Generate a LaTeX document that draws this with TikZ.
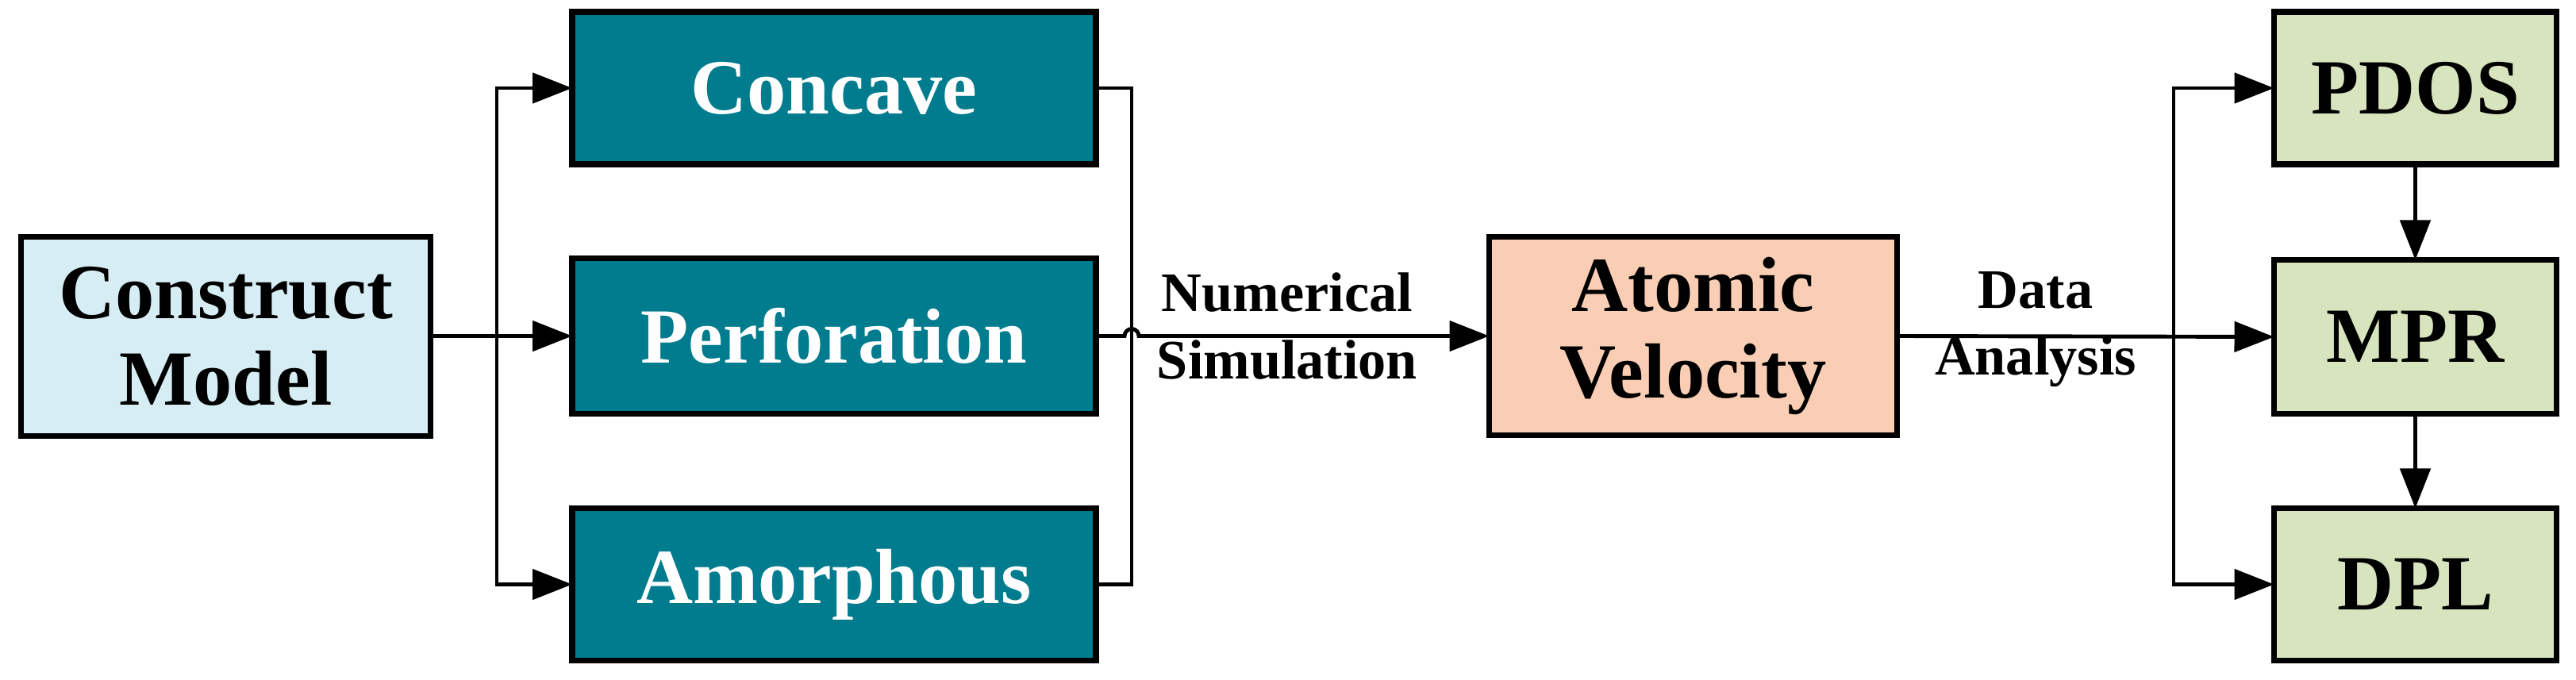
\documentclass[tikz,border=0pt]{standalone}
\usepackage{fontspec}
\setmainfont{Liberation Serif}
\usetikzlibrary{arrows.meta}
\definecolor{teal1}{RGB}{0,124,142}
\definecolor{lblue}{RGB}{214,237,244}
\definecolor{peach}{RGB}{250,206,180}
\definecolor{lgreen}{RGB}{215,228,189}
\begin{document}
\begin{tikzpicture}[
  box/.style={draw=black,line width=2pt,outer sep=0pt,inner sep=0pt,align=center,font=\fontsize{28}{31}\selectfont\bfseries},
  tbox/.style={box,fill=teal1,text=white,minimum width=6.6cm,minimum height=1.92cm},
  gbox/.style={box,fill=lgreen,minimum width=3.56cm,minimum height=1.92cm},
  con/.style={line width=1.4pt},
  arr/.style={con,-{Triangle[length=0.5cm,width=0.38cm]}},
  lab/.style={font=\fontsize{20}{24}\selectfont\bfseries,align=center}]
\useasboundingbox (0,0) rectangle (32.46,8.57);
\node[box,fill=lblue,minimum width=5.16cm,minimum height=2.51cm] (cm) at (2.845,4.33) {Construct\\Model};
\node[tbox] (conc) at (10.51,7.46) {Concave};
\node[tbox,minimum height=1.96cm] (perf) at (10.51,4.335) {Perforation};
\node[tbox] (amor) at (10.51,1.205) {Amorphous};
\node[box,fill=peach,minimum width=5.14cm,minimum height=2.5cm] (atom) at (21.335,4.335) {Atomic\\Velocity};
\node[gbox] (pdos) at (30.435,7.46) {PDOS};
\node[gbox,minimum height=1.94cm] (mpr) at (30.435,4.325) {MPR};
\node[gbox] (dpl) at (30.435,1.205) {DPL};
\coordinate (s1) at (6.26,4.335);
\coordinate (m1) at (14.26,4.335);
\coordinate (s2) at (27.39,4.335);
\draw[arr] (cm.east |- perf.west) -- (perf.west);
\draw[arr] (s1) |- (conc.west);
\draw[arr] (s1) |- (amor.west);
\draw[con] (conc.east) -| (m1 |- amor.east) -- (amor.east);
\draw[arr] (perf.east) -- ([xshift=-0.09cm]m1) arc[start angle=180,end angle=0,radius=0.09cm] -- (atom.west);
\draw[arr] (atom.east) -- (mpr.west);
\draw[arr] (s2) |- (pdos.west);
\draw[arr] (s2) |- (dpl.west);
\draw[arr] (pdos.south) -- (mpr.north);
\draw[arr] (mpr.south) -- (dpl.north);
\node[lab] (l1) at (16.22,4.46) {Numerical\\Simulation};
\node[lab] (l2) at (25.65,4.42) {Data\\Analysis};
\end{tikzpicture}
\end{document}
